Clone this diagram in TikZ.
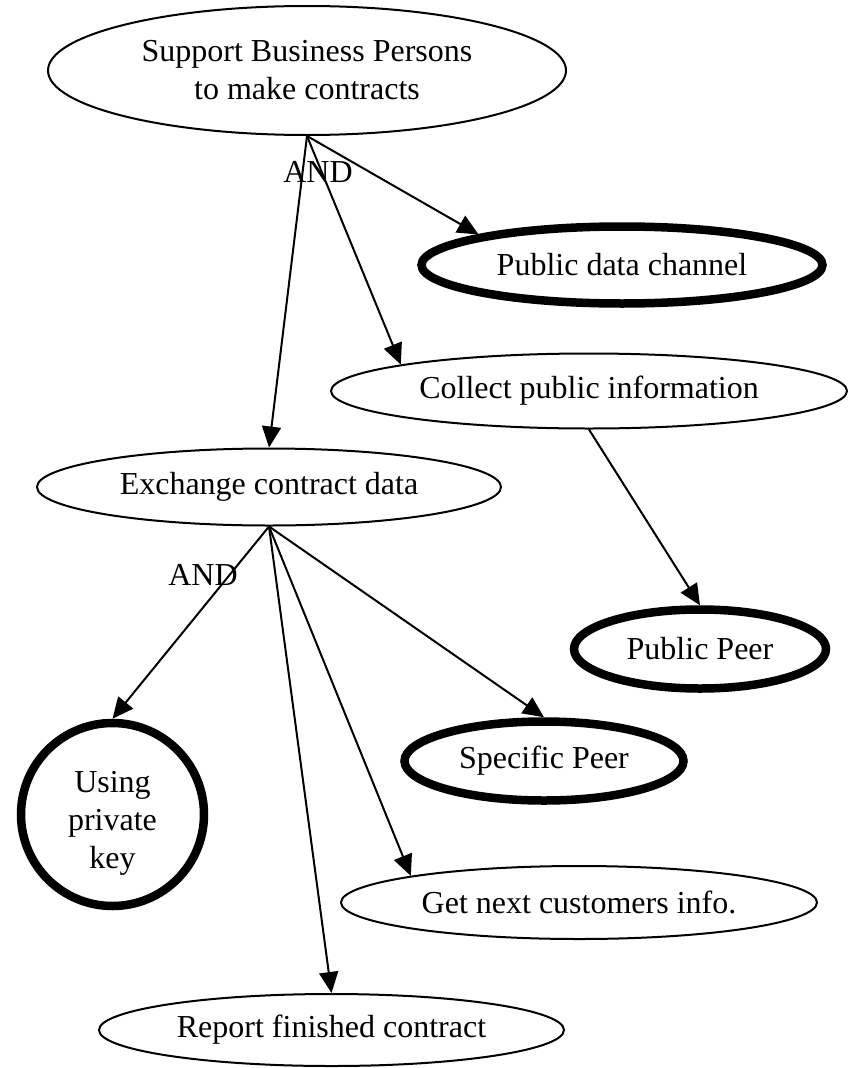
\documentclass[tikz,border=0pt]{standalone}
\usepackage{fontspec}
\setmainfont{Liberation Serif}
\usetikzlibrary{shapes.geometric,arrows.meta}

\begin{document}
\begin{tikzpicture}[x=1pt,y=-1pt,
  goal/.style={draw, ellipse, line width=2pt, inner sep=0pt,
    font=\fontsize{32}{38}\selectfont, align=center},
  leaf/.style={goal, line width=8.5pt},
  leafround/.style={draw, circle, line width=8.5pt, inner sep=0pt,
    font=\fontsize{32}{38}\selectfont, align=center},
  link/.style={line width=2pt, -{Triangle[length=21pt,width=19pt]}},
  andlabel/.style={font=\fontsize{32}{38}\selectfont, inner sep=0pt}
]
\useasboundingbox (0,0) rectangle (853,1068);

% goals
\node[goal, minimum width=518pt, minimum height=129pt] (top) at (307,70.5)
  {Support Business Persons\\to make contracts};
\node[leaf, minimum width=401pt, minimum height=77pt] (pdc) at (622,265)
  {Public data channel};
\node[goal, minimum width=516pt, minimum height=75pt] (collect) at (589,391)
  {Collect public information};
\node[goal, minimum width=464pt, minimum height=77pt] (exchange) at (269,487)
  {Exchange contract data};
\node[leaf, minimum width=252pt, minimum height=79pt] (ppeer) at (700,649)
  {Public Peer};
\node[leaf, minimum width=279pt, minimum height=79pt] (speer) at (544,761)
  {Specific Peer};
\node[leafround, minimum size=183pt] (key) at (112.5,814.5)
  {\rule{0pt}{38pt}Using\\private\\key};
\node[goal, minimum width=476pt, minimum height=73pt] (getnext) at (579,902.5)
  {Get next customers info.};
\node[goal, minimum width=465pt, minimum height=72pt] (report) at (331.5,1030)
  {Report finished contract};

% decompositions
\draw[link] (top.south) -- (pdc.168);
\draw[link] (top.south) -- (collect.172);
\draw[link] (top.south) -- (exchange.north);
\draw[link] (collect.south) -- (ppeer.north);
\draw[link] (exchange.south) -- (key.north);
\draw[link] (exchange.south) -- (speer.north);
\draw[link] (exchange.south) -- (getnext.171);
\draw[link] (exchange.south) -- (report.north);

% refinement labels
\node[andlabel] (and1) at (318,172) {AND};
\node[andlabel] (and2) at (203,575) {AND};
\end{tikzpicture}
\end{document}
